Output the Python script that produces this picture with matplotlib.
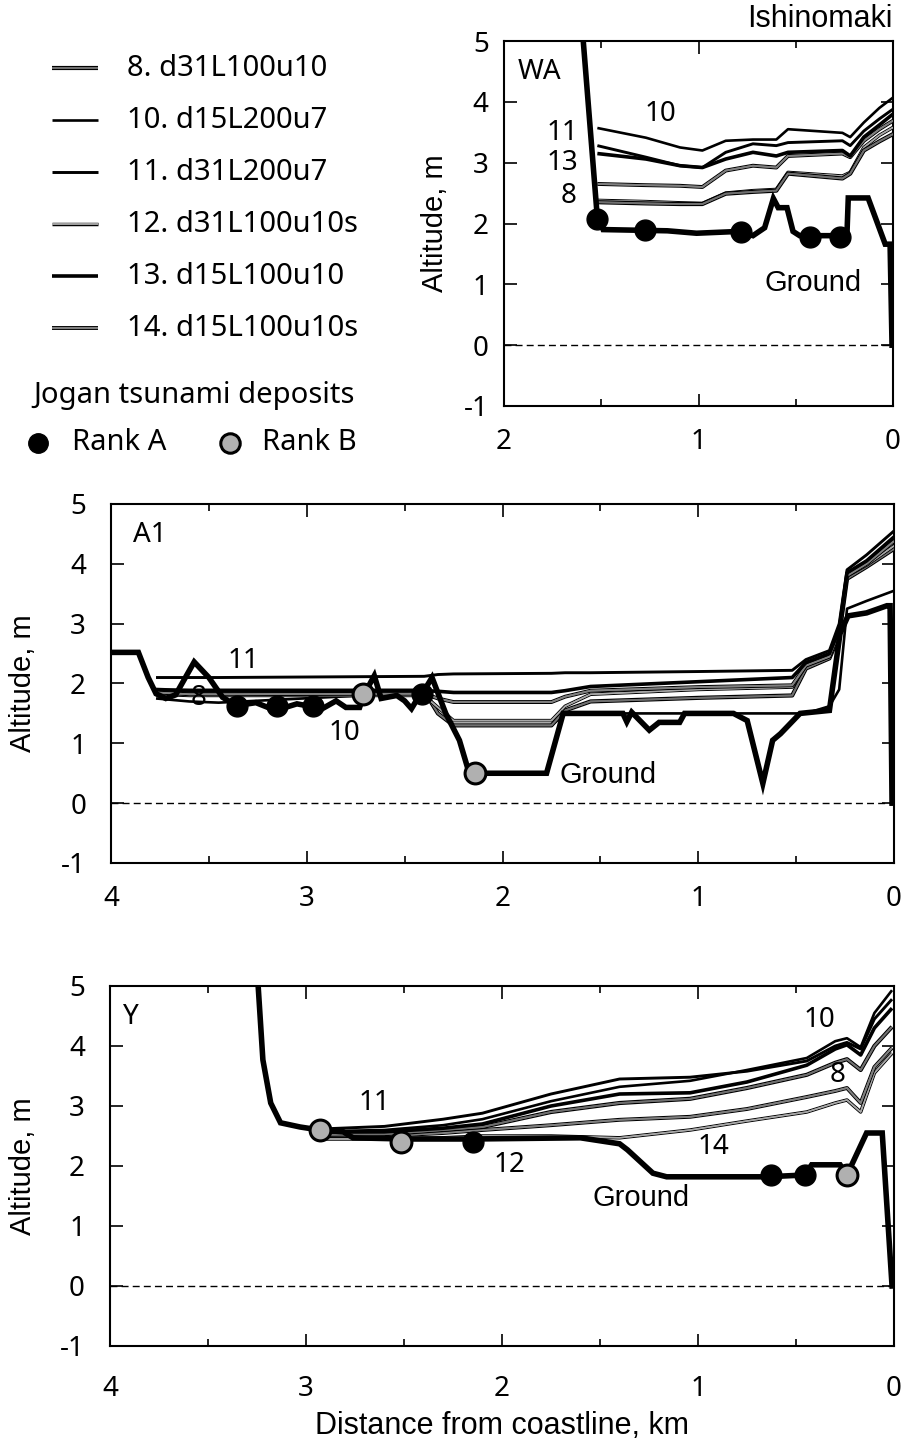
import matplotlib
matplotlib.use("Agg")
import matplotlib.pyplot as plt
from matplotlib.lines import Line2D
import matplotlib.patheffects as pe

plt.rcParams['axes.unicode_minus'] = False

# ---------------- data ----------------
# WA transect (Ishinomaki)
wa_ground_x = [1.60, 1.523, 1.49, 1.16, 1.01, 0.79, 0.72, 0.66, 0.615, 0.59, 0.545, 0.514, 0.48, 0.237, 0.23, 0.128, 0.04, 0.015, 0.005]
wa_ground_y = [5.3, 2.21, 1.90, 1.88, 1.84, 1.87, 1.80, 1.93, 2.41, 2.26, 2.26, 1.87, 1.80, 1.80, 2.42, 2.42, 1.66, 1.66, 0.0]
wa_rankA_x = [1.52, 1.275, 0.78, 0.427, 0.272]
wa_rankA_y = [2.08, 1.90, 1.86, 1.77, 1.77]
wa_line_x = [1.52, 1.27, 1.095, 0.98, 0.86, 0.72, 0.60, 0.54, 0.26, 0.22, 0.15, 0.07, 0.0]
wa_lines = {
    '14': [2.65, 2.63, 2.62, 2.60, 2.87, 2.95, 2.92, 3.11, 3.15, 3.09, 3.36, 3.55, 3.69],
    '12': [2.38, 2.36, 2.34, 2.33, 2.50, 2.54, 2.56, 2.84, 2.78, 2.84, 3.25, 3.45, 3.58],
    '8':  [2.35, 2.33, 2.32, 2.32, 2.49, 2.52, 2.54, 2.82, 2.74, 2.82, 3.20, 3.35, 3.47],
    '13': [3.15, 3.06, 2.95, 2.92, 3.06, 3.17, 3.11, 3.17, 3.20, 3.11, 3.42, 3.62, 3.80],
    '11': [3.28, 3.09, 2.95, 2.92, 3.17, 3.31, 3.28, 3.33, 3.36, 3.28, 3.52, 3.72, 3.88],
    '10': [3.57, 3.41, 3.25, 3.20, 3.36, 3.38, 3.38, 3.55, 3.49, 3.42, 3.66, 3.90, 4.07],
}

# A1 transect
a1_ground_x = [4.0, 3.86, 3.81, 3.77, 3.72, 3.67, 3.575, 3.50, 3.43, 3.36, 3.26, 3.16, 3.05, 2.92, 2.85, 2.80,
               2.73, 2.71, 2.655, 2.62, 2.54, 2.50, 2.465, 2.43, 2.41, 2.36, 2.29, 2.22, 2.17, 2.14, 1.775, 1.69,
               1.385, 1.365, 1.34, 1.25, 1.20, 1.095, 1.07, 0.82, 0.75, 0.67, 0.62, 0.58, 0.48, 0.33, 0.276, 0.235,
               0.14, 0.036, 0.02, 0.01]
a1_ground_y = [2.52, 2.52, 2.10, 1.83, 1.75, 1.81, 2.36, 2.10, 1.77, 1.63, 1.68, 1.55, 1.66, 1.58, 1.71, 1.60,
               1.60, 1.80, 2.13, 1.75, 1.80, 1.71, 1.58, 1.77, 1.83, 2.10, 1.50, 1.05, 0.50, 0.50, 0.50, 1.50,
               1.50, 1.36, 1.52, 1.22, 1.35, 1.35, 1.50, 1.50, 1.38, 0.33, 1.05, 1.16, 1.50, 1.55, 2.83, 3.13,
               3.18, 3.30, 3.30, 0.0]
a1_rankA_x = [3.355, 3.15, 2.97, 2.41]
a1_rankA_y = [1.63, 1.62, 1.63, 1.83]
a1_rankB_x = [2.715, 2.143]
a1_rankB_y = [1.83, 0.50]
a1_line_x = [3.77, 3.6, 3.45, 2.4, 2.33, 2.25, 1.75, 1.68, 1.55, 1.0, 0.52, 0.45, 0.33, 0.28, 0.24, 0.14, 0.0]
a1_lines = {
    '10': [1.75, 1.70, 1.68, 1.85, 1.50, 1.30, 1.30, 1.50, 1.50, 1.50, 1.50, 1.50, 1.62, 1.90, 3.25, 3.38, 3.55],
    '8':  [1.88, 1.88, 1.88, 1.88, 1.50, 1.30, 1.30, 1.55, 1.70, 1.76, 1.80, 2.25, 2.42, 2.80, 3.75, 3.95, 4.25],
    '12': [1.82, 1.80, 1.80, 1.80, 1.60, 1.38, 1.38, 1.62, 1.82, 1.90, 1.94, 2.30, 2.45, 2.85, 3.80, 3.98, 4.30],
    '14': [1.85, 1.82, 1.82, 1.83, 1.75, 1.69, 1.69, 1.78, 1.88, 1.94, 1.97, 2.30, 2.45, 2.85, 3.80, 4.00, 4.38],
    '13': [1.90, 1.88, 1.88, 1.88, 1.87, 1.85, 1.85, 1.88, 1.95, 2.03, 2.10, 2.35, 2.50, 2.90, 3.85, 4.05, 4.45],
    '11': [2.10, 2.10, 2.10, 2.12, 2.15, 2.16, 2.17, 2.18, 2.18, 2.20, 2.22, 2.40, 2.55, 3.00, 3.90, 4.15, 4.55],
}

# Y transect
y_ground_x = [3.25, 3.22, 3.18, 3.13, 3.03, 2.93, 2.81, 2.76, 2.50, 2.15, 1.60, 1.40, 1.36, 1.23, 1.16, 0.65,
              0.455, 0.42, 0.275, 0.24, 0.14, 0.06, 0.01]
y_ground_y = [5.3, 3.77, 3.05, 2.72, 2.65, 2.60, 2.57, 2.47, 2.45, 2.45, 2.47, 2.37, 2.27, 1.88, 1.82, 1.82,
              1.85, 2.02, 2.02, 1.85, 2.55, 2.55, 0.0]
y_rankA_x = [2.15, 0.63, 0.455]
y_rankA_y = [2.40, 1.85, 1.85]
y_rankB_x = [2.93, 2.515, 0.24]
y_rankB_y = [2.60, 2.40, 1.85]
y_line_x = [2.9, 2.6, 2.3, 2.1, 1.75, 1.4, 1.04, 0.75, 0.445, 0.3, 0.24, 0.17, 0.1, 0.01]
y_lines = {
    '12': [2.45, 2.45, 2.47, 2.50, 2.50, 2.47, 2.60, 2.75, 2.90, 3.05, 3.10, 2.90, 3.55, 3.88],
    '14': [2.50, 2.50, 2.55, 2.60, 2.68, 2.77, 2.82, 2.95, 3.15, 3.25, 3.30, 3.05, 3.65, 3.97],
    '8':  [2.52, 2.53, 2.60, 2.65, 2.90, 3.05, 3.12, 3.30, 3.52, 3.72, 3.78, 3.60, 4.00, 4.32],
    '13': [2.57, 2.57, 2.63, 2.70, 3.00, 3.20, 3.22, 3.40, 3.68, 3.95, 4.02, 3.85, 4.30, 4.63],
    '11': [2.62, 2.66, 2.78, 2.88, 3.20, 3.45, 3.48, 3.58, 3.75, 4.00, 4.06, 3.95, 4.45, 4.78],
    '10': [2.58, 2.60, 2.68, 2.78, 3.08, 3.32, 3.42, 3.60, 3.80, 4.08, 4.13, 3.98, 4.55, 4.93],
}

legend_keys = ['8', '10', '11', '12', '13', '14']
legend_names = ['8. d31L100u10', '10. d15L200u7', '11. d31L200u7',
                '12. d31L100u10s', '13. d15L100u10', '14. d15L100u10s']

# ---------------- styles ----------------
MY = ['Noto Sans', 'DejaVu Sans']
AR = ['Liberation Sans', 'DejaVu Sans']
styles = {
    '8':  dict(color='#707070', lw=1.3, edge=3.0),
    '10': dict(color='black', lw=1.9, edge=None),
    '11': dict(color='black', lw=2.1, edge=None),
    '12': dict(color='#a8a8a8', lw=1.1, edge=2.5),
    '13': dict(color='black', lw=2.6, edge=None),
    '14': dict(color='#808080', lw=1.3, edge=2.8),
}


def style_kw(k):
    s = styles[k]
    kw = dict(color=s['color'], lw=s['lw'], solid_capstyle='butt', solid_joinstyle='round')
    if s['edge']:
        kw['path_effects'] = [pe.withStroke(linewidth=s['edge'], foreground='black'), pe.Normal()]
    return kw


fig = plt.figure(figsize=(9.02, 14.42), dpi=100)
W, H = 902, 1442


def add_ax(l, t, r, b):
    return fig.add_axes([l / W, 1 - b / H, (r - l) / W, (b - t) / H])


ax_wa = add_ax(504, 41, 893, 406)
ax_a1 = add_ax(111, 504, 894, 863)
ax_y = add_ax(110, 986, 894, 1346)

TICKFS = 20


def setup(ax, xmax, ypad, xpad, label_x):
    ax.set_xlim(xmax, 0)
    ax.set_ylim(-1, 5)
    ax.set_xticks(range(int(xmax), -1, -1))
    ax.set_xticks([v + 0.5 for v in range(int(xmax))], minor=True)
    ax.set_yticks(range(-1, 6))
    ax.tick_params(which='both', direction='in', top=True, right=True, width=1.2)
    ax.tick_params(which='major', length=9)
    ax.tick_params(which='minor', length=5)
    ax.tick_params(axis='y', pad=ypad)
    ax.tick_params(axis='x', pad=xpad)
    for lab in ax.get_xticklabels() + ax.get_yticklabels():
        lab.set_fontfamily(MY)
        lab.set_fontsize(TICKFS)
    for sp in ax.spines.values():
        sp.set_linewidth(1.5)
    ax.axhline(0, color='black', lw=1.0, ls=(0, (5, 3)), zorder=1)
    ax.set_ylabel('Altitude, m', fontsize=21, family=AR)
    ax.yaxis.set_label_coords(label_x, 0.5)


def draw(ax, line_x, lines, gx, gy, ax_x, ax_y_, bx, by):
    for k, vals in lines.items():
        ax.plot(line_x, vals, zorder=3, **style_kw(k))
    ax.plot(gx, gy, color='black', lw=4.0, zorder=4, solid_joinstyle='miter')
    if ax_x:
        ax.plot(ax_x, ax_y_, 'o', ms=15, mfc='black', mec='black', zorder=5)
    if bx:
        ax.plot(bx, by, 'o', ms=15, mfc='#b0b0b0', mec='black', mew=2.2, zorder=5)


setup(ax_wa, 2, 11, 16, -0.141)
setup(ax_a1, 4, 18, 16, -0.0945)
setup(ax_y, 4, 18, 21, -0.093)

draw(ax_wa, wa_line_x, wa_lines, wa_ground_x, wa_ground_y, wa_rankA_x, wa_rankA_y, [], [])
draw(ax_a1, a1_line_x, a1_lines, a1_ground_x, a1_ground_y, a1_rankA_x, a1_rankA_y, a1_rankB_x, a1_rankB_y)
draw(ax_y, y_line_x, y_lines, y_ground_x, y_ground_y, y_rankA_x, y_rankA_y, y_rankB_x, y_rankB_y)

# panel names
for ax, name, xf in [(ax_wa, 'WA', 0.036), (ax_a1, 'A1', 0.028), (ax_y, 'Y', 0.016)]:
    ax.text(xf, 0.915, name, transform=ax.transAxes, fontsize=20, family=MY, va='center', ha='left')

# line labels
lab_kw = dict(fontsize=20, family=MY, ha='center', va='center', zorder=6)
ax_wa.text(1.198, 3.80, '10', **lab_kw)
ax_wa.text(1.70, 3.48, '11', **lab_kw)
ax_wa.text(1.70, 3.00, '13', **lab_kw)
ax_wa.text(1.67, 2.46, '8', **lab_kw)
ax_wa.text(0.66, 1.03, 'Ground', fontsize=21, family=AR, ha='left', va='center')

ax_a1.text(3.325, 2.37, '11', **lab_kw)
ax_a1.text(3.555, 1.75, '8', **lab_kw)
ax_a1.text(2.81, 1.18, '10', **lab_kw)
ax_a1.text(1.71, 0.47, 'Ground', fontsize=21, family=AR, ha='left', va='center')

ax_y.text(0.378, 4.43, '10', **lab_kw)
ax_y.text(0.286, 3.52, '8', **lab_kw)
ax_y.text(0.923, 2.32, '14', **lab_kw)
ax_y.text(2.65, 3.05, '11', **lab_kw)
ax_y.text(1.96, 2.02, '12', **lab_kw)
ax_y.text(1.54, 1.47, 'Ground', fontsize=21, family=AR, ha='left', va='center')

ax_y.set_xlabel('Distance from coastline, km', fontsize=22, family=AR, labelpad=6)

fig.text(893 / W, 1 - 19 / H, 'Ishinomaki', fontsize=22, family=AR, ha='right', va='center')

# legend (figure pixel coordinates)
tr = fig.transFigure
rows_y = [68, 120, 172, 224, 276, 328]
for k, name, yy in zip(legend_keys, legend_names, rows_y):
    fy = 1 - yy / H
    fig.add_artist(Line2D([52 / W, 98 / W], [fy, fy], transform=tr, **style_kw(k)))
    fig.text(127 / W, fy, name, fontsize=21, family=MY, ha='left', va='center')

fig.text(33 / W, 1 - 396 / H, 'Jogan tsunami deposits', fontsize=21, family=MY, ha='left', va='center')
fy = 1 - 443 / H
fig.add_artist(Line2D([38 / W], [fy], transform=tr, marker='o', ms=14, mfc='black', mec='black', ls='none'))
fig.text(72 / W, fy, 'Rank A', fontsize=21, family=MY, ha='left', va='center')
fig.add_artist(Line2D([230 / W], [fy], transform=tr, marker='o', ms=14, mfc='#b0b0b0', mec='black', mew=2.2, ls='none'))
fig.text(262 / W, fy, 'Rank B', fontsize=21, family=MY, ha='left', va='center')

fig.savefig('out.png', dpi=100)
